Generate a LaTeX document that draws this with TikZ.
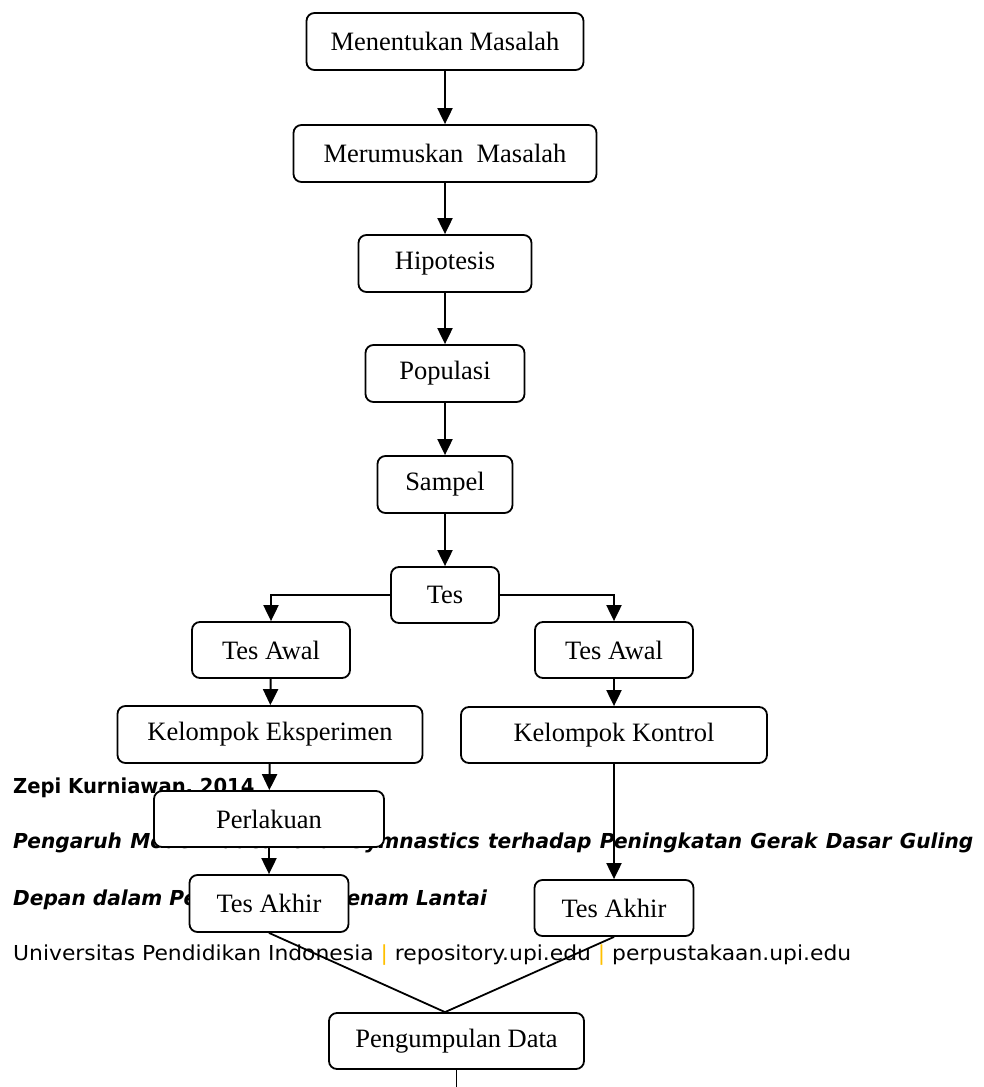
\documentclass[tikz,border=0pt]{standalone}
\usepackage{fontspec}
\setmainfont{Liberation Serif}
\newfontfamily\footfont[FakeStretch=1.06]{DejaVu Sans}
\newfontfamily\footbf[FakeStretch=0.95]{DejaVu Sans}
\newfontfamily\footbfit[FakeStretch=0.977]{DejaVu Sans}
\usetikzlibrary{arrows.meta}
\definecolor{upibar}{HTML}{FFC000}

\begin{document}
\begin{tikzpicture}[x=1pt,y=-1pt,
    box/.style={draw,line width=1.8pt,rounded corners=8pt,fill=white,inner sep=0pt,
      minimum height=57pt,font=\fontsize{26.5}{30}\selectfont},
    foot/.style={anchor=base west,inner sep=0pt,font=\fontsize{20.6}{24}\selectfont}]
  \useasboundingbox[fill=white] (0,0) rectangle (984,1087);
  % page footer behind the chart
  \node[foot] (f0) at (13,793) {\footbf\bfseries Zepi Kurniawan, 2014};
  \node[foot] (f1) at (13,848) {\makebox[960pt][s]{\footbfit\bfseries\itshape Pengaruh Model Educational Gymnastics terhadap Peningkatan Gerak Dasar Guling}};
  \node[foot] (f2) at (13,905) {\footbfit\bfseries\itshape Depan dalam Pembelajaran Senam Lantai};
  \node[foot] (f3) at (13,960) {\footfont Universitas Pendidikan Indonesia {\color{upibar}|} repository.upi.edu {\color{upibar}|} perpustakaan.upi.edu};
  % chart
  \path[every node/.style=box]
    (445,41.5) node[minimum width=277pt] (0){Menentukan Masalah}
    (445,153.5) node[minimum width=303pt] (1){Merumuskan~ Masalah}
    (445,263.5) node[minimum width=173pt] (2){Hipotesis}
    (445,373.5) node[minimum width=159pt] (3){Populasi}
    (445,484.5) node[minimum width=135pt] (4){Sampel}
    (445,595) node[minimum width=108pt,minimum height=56pt] (5){Tes}
    (271,650) node[minimum width=158pt,minimum height=56pt] (6){Tes Awal}
    (614,650) node[minimum width=158pt,minimum height=56pt] (7){Tes Awal}
    (270,734.5) node[minimum width=305pt] (8){Kelompok Eksperimen}
    (614,735) node[minimum width=306pt,minimum height=56pt] (9){Kelompok Kontrol}
    (269,819) node[minimum width=230pt,minimum height=56pt] (10){Perlakuan}
    (269,903.5) node[minimum width=159pt] (11){Tes Akhir}
    (614,908) node[minimum width=159pt,minimum height=56pt] (12){Tes Akhir}
    (456.5,1041) node[minimum width=255pt,minimum height=56pt] (13){Pengumpulan Data};
  \coordinate (14) at (456.5,1087);
  \begin{scope}[-{Triangle[length=16pt,width=15pt]},line width=2pt]
    \draw (0) to (1);
    \draw (1) to (2);
    \draw (2) to (3);
    \draw (3) to (4);
    \draw (4) to (5);
    \draw (5.west) -| (6.north);
    \draw (5.east) -| (7.north);
    \draw (6) to (8);
    \draw (7) to (9);
    \draw (8) to (10);
    \draw (10) to (11);
    \draw (9) to (12);
  \end{scope}
  \begin{scope}[-,line width=1.8pt]
    \draw (11.south) to ([xshift=-11.5pt]13.north);
    \draw (12.south) to ([xshift=-11.5pt]13.north);
    \draw (13) to (14);
  \end{scope}
\end{tikzpicture}
\end{document}
